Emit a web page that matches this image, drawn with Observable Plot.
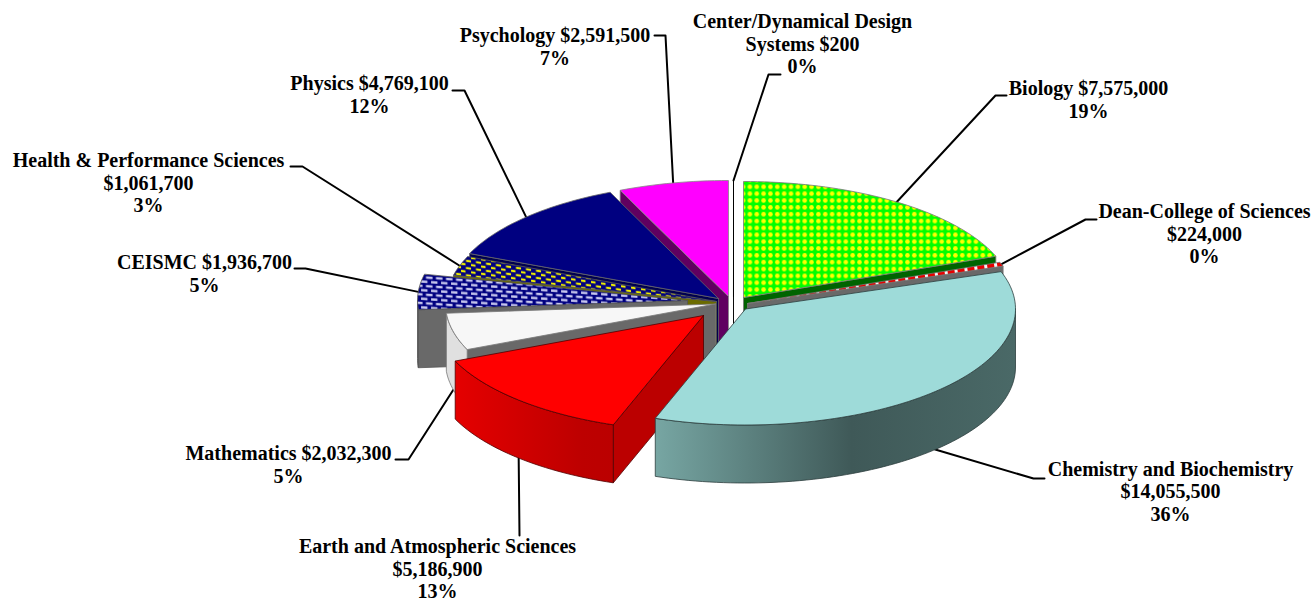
<!DOCTYPE html>
<html><head><meta charset="utf-8">
<script src="https://cdn.jsdelivr.net/npm/d3@7"></script>
<script src="https://cdn.jsdelivr.net/npm/@observablehq/plot@0.6"></script>
<style>html,body{margin:0;padding:0;background:#fff}svg{display:block}</style>
</head><body><div id="chart"></div>
<script>
// Data, in the chart's clockwise order from 12 o'clock
const departments = ["Center/Dynamical Design Systems","Biology","Dean-College of Sciences","Chemistry and Biochemistry","Earth and Atmospheric Sciences","Mathematics","CEISMC","Health & Performance Sciences","Physics","Psychology"];
const amounts = [200,7575000,224000,14055500,5186900,2032300,1936700,1061700,4769100,2591500];
const percents = ["0%","19%","0%","36%","13%","5%","5%","3%","12%","7%"];
const labelTexts = [
  "Center/Dynamical Design\nSystems $200\n0%",
  "Biology $7,575,000\n19%",
  "Dean-College of Sciences\n$224,000\n0%",
  "Chemistry and Biochemistry\n$14,055,500\n36%",
  "Earth and Atmospheric Sciences\n$5,186,900\n13%",
  "Mathematics $2,032,300\n5%",
  "CEISMC $1,936,700\n5%",
  "Health & Performance Sciences\n$1,061,700\n3%",
  "Physics $4,769,100\n12%",
  "Psychology $2,591,500\n7%"
];
// Layout of the exploded pie
const rx = 270, ry = 116, depth = 58;
const apexX = [733,743,747,745,703,715,687,716,718,728];
const apexY = [296,297,303,308.5,315,303.5,300,301,298,296];
const labelX = [802,1088,1204,1170,437,288,204,148,369,554.5];
const labelY = [43,99,233,490.5,568,464,273,182,93.5,45.5];
const elbowX = [[768,780],[995,1006],[1085,1096],[1033,1044],[519,519],[408,395],[305,294],[302,290],[464,452],[665,654]];
const elbowY = [[74,74],[95,95],[219,219],[478,478],[535,535],[459,459],[268,268],[166,166],[90,90],[35,35]];
const paintOrder = [0,9,8,7,6,5,4,1,2,3];
// Styles
const topFills = ["#ffffff","url(#pBio)","url(#pDean)","#9edbd9","#ff0000","#f7f7f7","url(#pCeis)","url(#pHealth)","#000080","#ff00ff"];
const cutFills = ["#ffffff","#006400","#696969","#3f5958","#bb0000","#696969","#696969","#6b6b00","#000050","#600060"];
const wallFills = ["#fff","#006400","#696969","url(#gChem)","url(#gEarth)","#e0e0e0","#696969","#6b6b00","#000050","#600060"];
const edgeColors = ["#000","#777","#777","#2c3e3d","#500000","#777","#555","#555","#666","#888"];

const total = d3.sum(amounts);
const cum = [0, ...d3.cumsum(amounts)];
const slices = departments.map((name,i)=>({i,name,a0:cum[i]/total*360,a1:cum[i+1]/total*360,ox:apexX[i],oy:apexY[i]}));
const rad = d => d*Math.PI/180;
const rim = (s,a,dz=0)=>[s.ox+rx*Math.sin(rad(a)), s.oy-ry*Math.cos(rad(a))+dz];
const arc = (s,a0,a1,dz=0)=>{const n=Math.max(2,Math.ceil((a1-a0)/1.5));return d3.range(n+1).map(k=>rim(s,a0+(a1-a0)*k/n,dz));};
const poly = (pts,fill,stroke,strokeWidth=0.8)=>Plot.line([...pts,pts[0]],{x:d=>d[0],y:d=>d[1],fill,stroke,strokeWidth,strokeLinejoin:"miter",curve:"linear"});

function sliceMarks(s){
  const m=[], i=s.i, c=edgeColors[i];
  const face=a=>poly([[s.ox,s.oy],rim(s,a),rim(s,a,depth),[s.ox,s.oy+depth]],cutFills[i],c);
  if(s.a0>=180&&s.a0<360) m.push(face(s.a0));
  if(s.a1>=0&&s.a1<=180) m.push(face(s.a1));
  const w0=Math.max(s.a0,90), w1=Math.min(s.a1,270);
  if(w1>w0) m.push(poly([...arc(s,w0,w1),...arc(s,w0,w1,depth).reverse()],wallFills[i],c));
  m.push(poly([[s.ox,s.oy],...arc(s,s.a0,s.a1)],topFills[i],c));
  return m;
}
const leaders = slices.map(s=>{
  const mid=(s.a0+s.a1)/2, front=mid>90&&mid<270;
  return [rim(s,mid,front?depth:0),...elbowX[s.i].map((x,k)=>[x,elbowY[s.i][k]])].map(p=>({x:p[0],y:p[1],z:s.i}));
}).flat();

function defs(){
  const div=document.createElement("div");
  div.innerHTML=`<svg xmlns="http://www.w3.org/2000/svg"><defs>
  <pattern id="pBio" patternUnits="userSpaceOnUse" width="6.85" height="6.85" patternTransform="translate(746,183)">
    <rect width="6.85" height="6.85" fill="#00ff00"/><circle cx="3.4" cy="3.4" r="2.3" fill="#ffff00"/>
  </pattern>
  <pattern id="pDean" patternUnits="userSpaceOnUse" width="10" height="5" patternTransform="rotate(-9)">
    <rect width="10" height="5" fill="#e80000"/><rect width="3" height="5" fill="#f4f4f4"/>
  </pattern>
  <pattern id="pCeis" patternUnits="userSpaceOnUse" width="10" height="8.6" patternTransform="translate(425,275) skewY(4)">
    <rect width="10" height="8.6" fill="#000080"/>
    <rect x="0.5" y="0.8" width="6.5" height="2.4" fill="#c8c8ee"/><rect x="5.5" y="5.1" width="4.5" height="2.4" fill="#c8c8ee"/><rect x="0" y="5.1" width="2" height="2.4" fill="#c8c8ee"/>
  </pattern>
  <pattern id="pHealth" patternUnits="userSpaceOnUse" width="10" height="7.2" patternTransform="translate(455,257) skewY(8)">
    <rect width="10" height="7.2" fill="#000080"/>
    <rect x="0.5" y="0.7" width="5" height="2.2" fill="#eeee00"/><rect x="5.5" y="4.3" width="4.5" height="2.2" fill="#eeee00"/>
  </pattern>
  <linearGradient id="gChem" gradientUnits="userSpaceOnUse" x1="655" x2="1015" y1="0" y2="0">
    <stop offset="0" stop-color="#77a6a3"/><stop offset="0.545" stop-color="#3f5958"/><stop offset="1" stop-color="#4a6967"/>
  </linearGradient>
  <linearGradient id="gEarth" gradientUnits="userSpaceOnUse" x1="456" x2="613" y1="0" y2="0">
    <stop offset="0" stop-color="#e40000"/><stop offset="0.8" stop-color="#bd0000"/><stop offset="1" stop-color="#bb0000"/>
  </linearGradient>
  </defs></svg>`;
  return div.firstChild;
}

const chart = Plot.plot({
  width:1314, height:602, margin:0,
  x:{domain:[0,1314],range:[0,1314],axis:null},
  y:{domain:[0,602],range:[0,602],axis:null},
  style:{background:"#fff"},
  marks:[
    defs,
    Plot.line(leaders,{x:"x",y:"y",z:"z",stroke:"#000",strokeWidth:2,curve:"linear"}),
    ...paintOrder.flatMap(i=>sliceMarks(slices[i])),
    Plot.text(labelTexts,{x:(d,i)=>labelX[i],y:(d,i)=>labelY[i],text:d=>d,textAnchor:"middle",lineAnchor:"middle",lineHeight:1.135,
      fontFamily:"'Liberation Serif'",fontWeight:"bold",fontSize:20,fill:"#000"})
  ]
});
document.getElementById("chart").append(chart);
</script></body></html>
